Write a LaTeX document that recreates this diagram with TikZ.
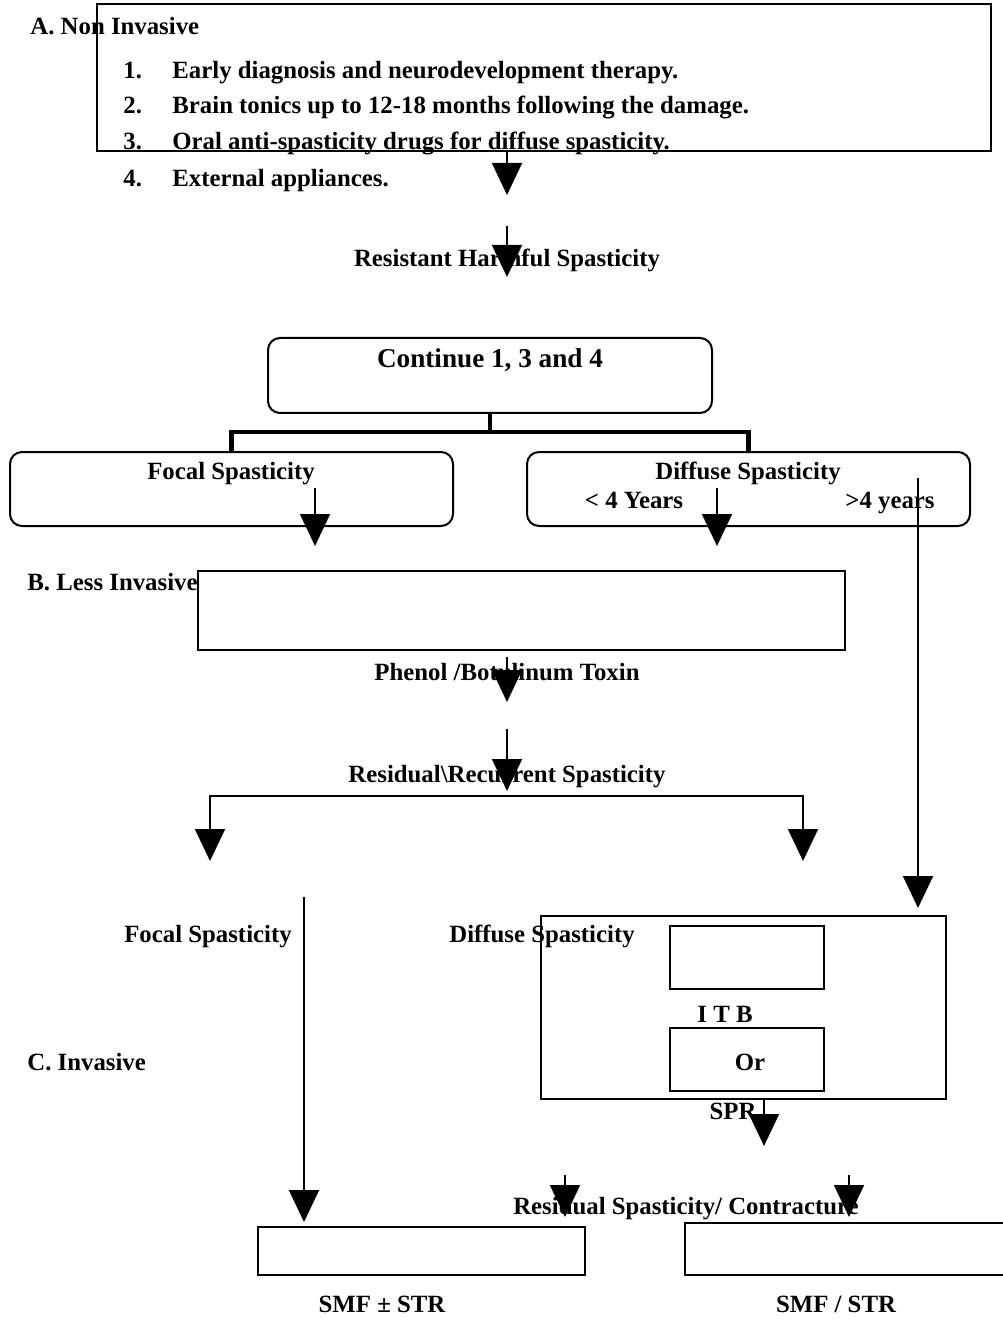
\documentclass[tikz,border=0pt]{standalone}
\usepackage{fontspec}
\setmainfont{Liberation Serif}
\usetikzlibrary{arrows.meta, positioning}

\begin{document}
\begin{tikzpicture}[
    x=0.5pt, y=-0.5pt,
    lbl/.style = {font=\fontsize{12.4}{14}\selectfont\bfseries, inner sep=0pt,
                  text height=8.5pt, text depth=2.5pt},
    sqbox/.style = {draw, line width=1.3pt, inner sep=0pt},
    rndbox/.style = {draw, line width=1pt, rounded corners=6pt, inner sep=0pt},
    arr/.style = {-{Triangle[length=16pt, width=15pt]}, line width=0.9pt},
    bar/.style = {line width=2.4pt},
]
\useasboundingbox (0,0) rectangle (1002,1320);

%% ── A. Non invasive ─────────────────────────────────────────────────
\node[sqbox, minimum width=447pt, minimum height=73.5pt] (nonbox) at (544,77.5) {};
\node[lbl, anchor=west] (lblA) at (30,29) {A. Non Invasive};
\foreach \n/\y/\txt in {1/73/Early diagnosis and neurodevelopment therapy.,
    2/108/Brain tonics up to 12-18 months following the damage.,
    3/144/Oral anti-spasticity drugs for diffuse spasticity.,
    4/181/External appliances.}{
  \node[lbl, anchor=west] (num\n) at (123,\y) {\n.};
  \node[lbl, anchor=west] (item\n) at (172,\y) {\txt};
}
\coordinate (a1) at (507,195);
\draw[arr] (a1 |- nonbox.south) -- (a1);

\node[lbl] (resist) at (507,261) {Resistant Harmful Spasticity};
\coordinate (r0) at (507,226);
\coordinate (r1) at (507,277);
\draw[arr] (r0) -- (r1);

%% ── Continue / split ────────────────────────────────────────────────
\node[rndbox, minimum width=222pt, minimum height=37.5pt] (cont) at (490,375.5) {};
\node[lbl, font=\fontsize{13.6}{16}\selectfont\bfseries] (contlbl) at (490,362) {Continue 1, 3 and 4};

\node[rndbox, minimum width=221.5pt, minimum height=37pt] (foc) at (231.5,489) {};
\node[rndbox, minimum width=221.5pt, minimum height=37pt] (dif) at (748.5,489) {};
\node[lbl] (foclbl) at (231,473) {Focal Spasticity};
\node[lbl] (diflbl) at (748,473) {Diffuse Spasticity};
\node[lbl] (young) at (634,502) {< 4 Years};
\node[lbl] (old) at (890,502) {>4 years};

\coordinate (br) at (490,432);
\draw[bar] (cont.south) -- (br);
\draw[bar] (foc.north) |- (br) -| (dif.north);

\coordinate (f0) at (315,488);
\coordinate (f1) at (315,546);
\coordinate (d0) at (717,488);
\coordinate (d1) at (717,546);
\coordinate (o0) at (918,478);
\coordinate (o1) at (918,908);
\draw[arr] (f0) -- (f1);
\draw[arr] (d0) -- (d1);
\draw[arr] (o0) -- (o1);

%% ── B. Less invasive ────────────────────────────────────────────────
\node[lbl, anchor=west] (lblB) at (27,584) {B. Less Invasive};
\node[sqbox, minimum width=323.5pt, minimum height=39.5pt] (lessbox) at (521.5,610.5) {};
\node[lbl] (phenol) at (507,674) {Phenol /Botulinum Toxin};
\coordinate (p0) at (507,657);
\coordinate (p1) at (507,702);
\draw[arr] (p0) -- (p1);

\node[lbl] (resid) at (507,776) {Residual\textbackslash Recurrent Spasticity};
\coordinate (q0) at (507,729);
\coordinate (q1) at (507,791);
\draw[arr] (q0) -- (q1);

\coordinate (bt) at (507,796);
\coordinate (bl) at (210,861);
\coordinate (bR) at (803,861);
\draw[arr] (bt) -| (bl);
\draw[arr] (bt) -| (bR);

%% ── C. Invasive ─────────────────────────────────────────────────────
\node[lbl] (foc2) at (208,936) {Focal Spasticity};
\node[lbl] (dif2) at (542,936) {Diffuse Spasticity};
\node[lbl, anchor=west] (lblC) at (27,1064) {C. Invasive};

\node[sqbox, minimum width=202.5pt, minimum height=91.5pt] (itbbox) at (743.5,1007.5) {};
\node[sqbox, minimum width=77pt, minimum height=31.5pt] (itb) at (747,957.5) {};
\node[sqbox, minimum width=77pt, minimum height=31.5pt] (spr) at (747,1059.5) {};
\node[lbl] (itblbl) at (725,1016) {I T B};
\node[lbl] (orlbl) at (750,1064) {Or};
\node[lbl] (sprlbl) at (733,1113) {SPR};

\node[sqbox, minimum width=163.5pt, minimum height=24pt] (smfa) at (421.5,1251) {};
\node[sqbox, minimum width=162.5pt, minimum height=26pt] (smfb) at (847.5,1249) {};

\coordinate (c0) at (304,897);
\coordinate (c1) at (304,1222);
\draw[arr] (c0) -- (c1);

\coordinate (s1) at (764,1146);
\draw[arr] (s1 |- itbbox.south) -- (s1);

\node[lbl] (contract) at (686,1208) {Residual Spasticity/ Contracture};
\coordinate (u0) at (565,1175);
\coordinate (u1) at (565,1217);
\coordinate (v0) at (849,1175);
\coordinate (v1) at (849,1217);
\draw[arr] (u0) -- (u1);
\draw[arr] (v0) -- (v1);

\node[lbl] (smfalbl) at (382,1306) {SMF ± STR};
\node[lbl] (smfblbl) at (836,1306) {SMF / STR};

\end{tikzpicture}
\end{document}
